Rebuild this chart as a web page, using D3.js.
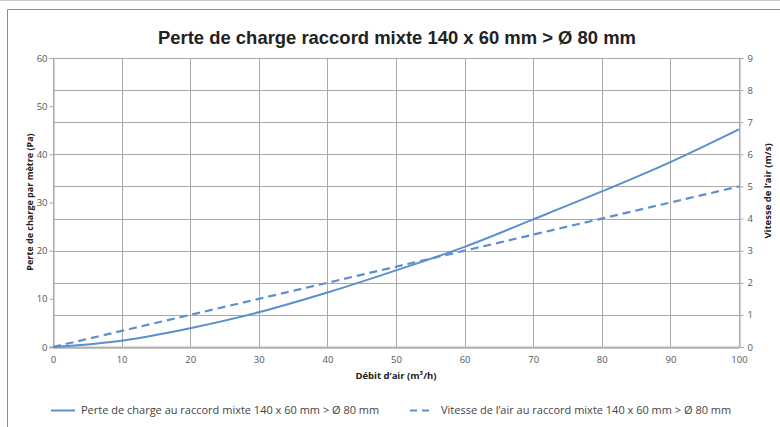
<!DOCTYPE html>
<html>
<head>
<meta charset="utf-8">
<style>
  body { margin: 0; background: #fff; }
  svg { display: block; font-family: "Open Sans", "Liberation Sans", sans-serif; }
</style>
</head>
<body>
<svg width="780" height="427"></svg>
<script src="https://d3js.org/d3.v7.min.js"></script>
<script>
// data
var debit = [0, 10, 20, 30, 40, 50, 60, 70, 80, 90, 100];
var perte = [0, 1.3, 3.9, 7.2, 11.3, 15.9, 20.8, 26.5, 32.3, 38.4, 45.2];
var vitesse = [0, 0.5, 1, 1.5, 2, 2.5, 3, 3.5, 4, 4.5, 5];
var xTicks = [0, 10, 20, 30, 40, 50, 60, 70, 80, 90, 100];
var leftTicks = [0, 10, 20, 30, 40, 50, 60];
var rightTicks = [0, 1, 2, 3, 4, 5, 6, 7, 8, 9];

var svg = d3.select("svg");
var blue = "#5b8fce";
var grid = "#a9a9a9";
var txt = "#555";

var x = d3.scaleLinear().domain([0, 100]).range([53, 739]);
var yL = d3.scaleLinear().domain([0, 60]).range([347, 58]);
var yR = d3.scaleLinear().domain([0, 9]).range([347, 58]);

// outer frame
svg.append("line").attr("x1", 0).attr("x2", 780).attr("y1", 0.5).attr("y2", 0.5)
  .attr("stroke", "#ccc");
svg.append("path").attr("d", "M7.5,427V9.5H780")
  .attr("fill", "none").attr("stroke", "#8c8c8c");

// title
svg.append("text")
  .attr("x", 397).attr("y", 44)
  .attr("text-anchor", "middle")
  .attr("font-family", "'Liberation Sans Narrow', 'Liberation Sans', sans-serif")
  .attr("font-weight", "bold")
  .attr("font-size", 19)
  .attr("fill", "#222")
  .attr("textLength", 478).attr("lengthAdjust", "spacingAndGlyphs")
  .text("Perte de charge raccord mixte 140 x 60 mm > Ø 80 mm");

// gridlines
var g = svg.append("g");
g.selectAll(".hg").data(rightTicks).enter().append("line")
  .attr("x1", x(0)).attr("x2", x(100))
  .attr("y1", function(d) { return Math.round(yR(d)) + 0.5; })
  .attr("y2", function(d) { return Math.round(yR(d)) + 0.5; })
  .attr("stroke", grid);
g.selectAll(".vg").data(xTicks).enter().append("line")
  .attr("x1", function(d) { return Math.round(x(d)) + 0.5; })
  .attr("x2", function(d) { return Math.round(x(d)) + 0.5; })
  .attr("y1", yL(60)).attr("y2", yL(0))
  .attr("stroke", grid);
// bottom axis line
svg.append("line").attr("x1", x(0) - 4).attr("x2", x(100))
  .attr("y1", yL(0) + 0.5).attr("y2", yL(0) + 0.5)
  .attr("stroke", "#b8b8b8").attr("stroke-width", 2);

// left axis
var axL = svg.append("g").attr("transform", "translate(" + (x(0) + 0.5) + ",0)")
  .call(d3.axisLeft(yL).tickValues(leftTicks).tickSize(4).tickPadding(2));
// right axis
var axR = svg.append("g").attr("transform", "translate(" + (x(100) + 0.5) + ",0)")
  .call(d3.axisRight(yR).tickValues(rightTicks).tickSize(4).tickPadding(4));
// bottom axis
var axB = svg.append("g").attr("transform", "translate(0," + (yL(0) + 0.5) + ")")
  .call(d3.axisBottom(x).tickValues(xTicks).tickSize(0).tickPadding(9));

[axL, axR, axB].forEach(function(a) {
  a.select(".domain").attr("stroke", grid);
  a.selectAll(".tick line").attr("stroke", grid);
  a.selectAll("text").attr("fill", txt).attr("font-size", 9.5)
    .attr("font-family", "'Open Sans', sans-serif");
});

// axis titles
svg.append("text")
  .attr("transform", "translate(33,202) rotate(-90)")
  .attr("text-anchor", "middle").attr("font-weight", "bold")
  .attr("font-size", 9).attr("fill", "#222")
  .text("Perte de charge par mètre (Pa)");
svg.append("text")
  .attr("transform", "translate(771,191) rotate(-90)")
  .attr("text-anchor", "middle").attr("font-weight", "bold")
  .attr("font-size", 9.5).attr("fill", "#222")
  .text("Vitesse de l\u2019air (m/s)");
svg.append("text")
  .attr("x", 396).attr("y", 379)
  .attr("text-anchor", "middle").attr("font-weight", "bold")
  .attr("font-size", 9.5).attr("fill", "#222")
  .text("Débit d\u2019air (m³/h)");

// series
var lineL = d3.line()
  .x(function(d, i) { return x(debit[i]); })
  .y(function(d) { return yL(d); })
  .curve(d3.curveMonotoneX);
var lineR = d3.line()
  .x(function(d, i) { return x(debit[i]); })
  .y(function(d) { return yR(d); });

svg.append("path").datum(vitesse)
  .attr("d", lineR).attr("fill", "none")
  .attr("stroke", blue).attr("stroke-width", 2.2)
  .attr("stroke-dasharray", "8,5");
svg.append("path").datum(perte)
  .attr("d", lineL).attr("fill", "none")
  .attr("stroke", blue).attr("stroke-width", 2);

// legend
var leg = svg.append("g").attr("font-size", 11).attr("fill", "#444");
leg.append("line").attr("x1", 51).attr("x2", 75).attr("y1", 410.5).attr("y2", 410.5)
  .attr("stroke", blue).attr("stroke-width", 2);
leg.append("text").attr("x", 81).attr("y", 414).attr("fill", "#444")
  .text("Perte de charge au raccord mixte 140 x 60 mm > Ø 80 mm");
leg.append("line").attr("x1", 410).attr("x2", 434).attr("y1", 410.5).attr("y2", 410.5)
  .attr("stroke", blue).attr("stroke-width", 2).attr("stroke-dasharray", "7,5");
leg.append("text").attr("x", 441).attr("y", 414).attr("fill", "#444")
  .text("Vitesse de l\u2019air au raccord mixte 140 x 60 mm > Ø 80 mm");
</script>
</body>
</html>
